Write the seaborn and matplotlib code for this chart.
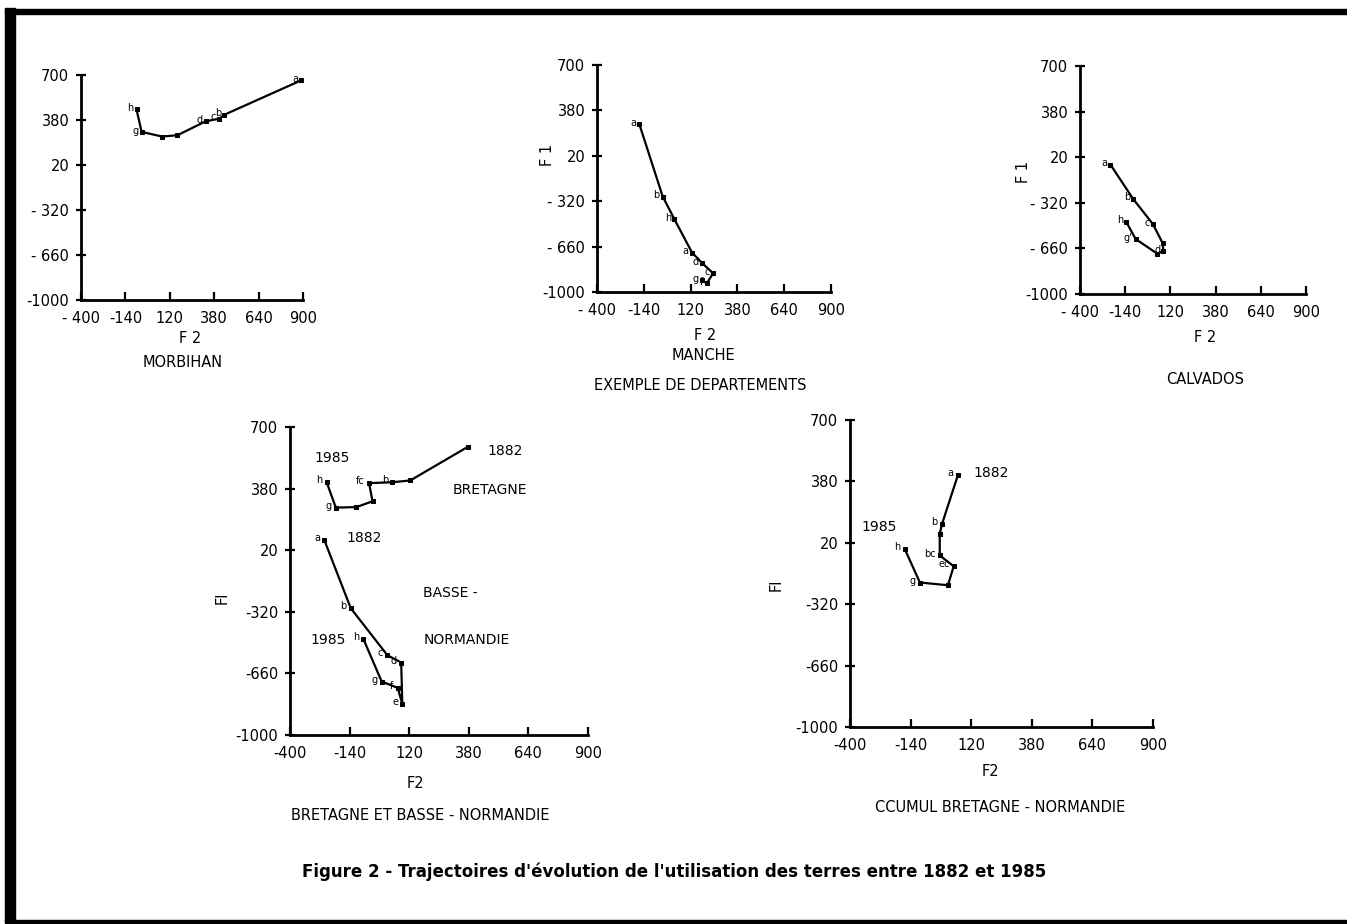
import numpy as np
import pandas as pd
import matplotlib
matplotlib.use("Agg")
import matplotlib.pyplot as plt
from matplotlib.patches import Rectangle
import seaborn as sns

sns.set_theme(style="ticks")
plt.rcParams['font.family'] = ['DejaVu Sans']

# ---------------- data (F2 = x, F1 = y) ----------------
X_TICKS = [-400, -140, 120, 380, 640, 900]
Y_TICKS = [-1000, -660, -320, 20, 360, 700]
X_TICK_LABELS_TOP = ['- 400', '-140', '120', '380', '640', '900']
Y_TICK_LABELS_TOP = ['-1000', '- 660', '- 320', '20', '380', '700']
X_TICK_LABELS_BOT = ['-400', '-140', '120', '380', '640', '900']
Y_TICK_LABELS_BOT = ['-1000', '-660', '-320', '20', '380', '700']

morbihan_x = [890, 440, 410, 330, 165, 75, -45, -75]
morbihan_y = [660, 400, 370, 350, 245, 235, 270, 440]
morbihan_lab = ['a', 'b', 'c', 'd', '', '', 'g', 'h']

manche_x = [-165, -35, 30, 128, 185, 245, 210, 183]
manche_y = [258, -285, -455, -705, -785, -860, -935, -910]
manche_lab = ['a', 'b', 'h', 'a', 'd', 'c', 'f', 'g']

calvados_x = [-225, -95, 20, 75, 80, 45, -80, -135]
calvados_y = [-35, -290, -480, -620, -680, -700, -590, -460]
calvados_lab = ['a', 'b', 'c', '', 'd', '', "g'", 'h']

bretagne_x = [375, 125, 45, -55, -40, -110, -200, -240]
bretagne_y = [590, 405, 395, 390, 290, 258, 255, 395]
bretagne_lab = ['', '', 'b', 'fc', '', '', 'g', 'h']

bnorm_x = [-250, -135, 25, 85, 90, 70, 0, -80]
bnorm_y = [75, -300, -560, -600, -830, -740, -705, -470]
bnorm_lab = ['a', 'b', 'c', 'd', 'e', 'f', 'g', 'h']

cumul_x = [63, -5, -15, -15, 45, 20, -100, -165]
cumul_y = [395, 125, 70, -50, -110, -215, -200, -15]
cumul_lab = ['a', 'b', '', 'bc', 'ec', '', 'g', 'h']

# panel annotations (text, x, y)
bret_notes = [('1985', -215, 530), ('1882', 540, 565), ('BRETAGNE', 470, 352),
              ('1882', -75, 90), ('BASSE -', 300, -216), ('NORMANDIE', 370, -476),
              ('1985', -235, -476)]
cumul_notes = [('1985', -275, 105), ('1882', 205, 405)]

W, H = 1347, 924
fig = plt.figure(figsize=(W / 100, H / 100), dpi=100)
fig.patch.set_facecolor('white')


def px_axes(x0, y0, x1, y1):
    return fig.add_axes([x0 / W, 1 - y1 / H, (x1 - x0) / W, (y1 - y0) / H])


def style_axes(ax, xl, yl, fs=10.5):
    ax.set_facecolor('white')
    ax.set_xlim(-400, 900)
    ax.set_ylim(-1000, 700)
    ax.set_xticks(X_TICKS)
    ax.set_yticks(Y_TICKS)
    ax.set_xticklabels(xl, fontsize=fs, color='black')
    ax.set_yticklabels(yl, fontsize=fs, color='black')
    for s in ['top', 'right']:
        ax.spines[s].set_visible(False)
    for s in ['left', 'bottom']:
        ax.spines[s].set_color('black')
        ax.spines[s].set_linewidth(2.0)
    ax.tick_params(axis='x', direction='in', length=6, width=1.6, pad=8, colors='black')
    ax.tick_params(axis='y', direction='inout', length=7, width=1.6, pad=5, colors='black')
    ax.grid(False)
    ax.set_xlabel('')
    ax.set_ylabel('')


def draw_traj(ax, xs, ys, labs):
    df = pd.DataFrame({'F2': xs, 'F1': ys})
    sns.lineplot(data=df, x='F2', y='F1', sort=False, estimator=None, ax=ax,
                 color='black', linewidth=1.6, marker='s', markersize=3,
                 markeredgecolor='black')
    for x, y, t in zip(xs, ys, labs):
        if t:
            ax.text(x - 18, y + 10, t, fontsize=7, ha='right', va='center',
                    color='black')


panels = [
    ((81, 75, 303, 300), morbihan_x, morbihan_y, morbihan_lab),
    ((597, 65, 831, 292), manche_x, manche_y, manche_lab),
    ((1080, 66, 1306, 294), calvados_x, calvados_y, calvados_lab),
]
for box, xs, ys, labs in panels:
    ax = px_axes(*box)
    draw_traj(ax, xs, ys, labs)
    style_axes(ax, X_TICK_LABELS_TOP, Y_TICK_LABELS_TOP)

ax4 = px_axes(290, 427, 588, 735)
draw_traj(ax4, bretagne_x, bretagne_y, bretagne_lab)
draw_traj(ax4, bnorm_x, bnorm_y, bnorm_lab)
style_axes(ax4, X_TICK_LABELS_BOT, Y_TICK_LABELS_BOT)
for t, x, y in bret_notes:
    ax4.text(x, y, t, fontsize=10, ha='center', va='center', color='black')

ax5 = px_axes(850, 420, 1153, 727)
draw_traj(ax5, cumul_x, cumul_y, cumul_lab)
style_axes(ax5, X_TICK_LABELS_BOT, Y_TICK_LABELS_BOT)
for t, x, y in cumul_notes:
    ax5.text(x, y, t, fontsize=10, ha='center', va='center', color='black')


def ftext(x, y, s, **kw):
    kw.setdefault('fontsize', 10.5)
    fig.text(x / W, 1 - y / H, s, ha='center', va='center', color='black', **kw)


# axis names & panel titles
ftext(190, 339, 'F 2')
ftext(183, 363, 'MORBIHAN')
ftext(548, 155, 'F 1', rotation=90)
ftext(705, 336, 'F 2')
ftext(703, 356, 'MANCHE')
ftext(700, 386, 'EXEMPLE DE DEPARTEMENTS')
ftext(1023, 172, 'F 1', rotation=90)
ftext(1205, 338, 'F 2')
ftext(1205, 380, 'CALVADOS')
ftext(222, 598, 'Fl', rotation=90)
ftext(415, 783, 'F2')
ftext(420, 815, 'BRETAGNE ET BASSE - NORMANDIE')
ftext(776, 585, 'Fl', rotation=90)
ftext(990, 772, 'F2')
ftext(1000, 808, 'CCUMUL BRETAGNE - NORMANDIE')

ftext(674, 872, "Figure 2 - Trajectoires d'évolution de l'utilisation des terres entre 1882 et 1985",
      fontsize=12, fontweight='bold')

# scanned page frame
fig.patches.append(Rectangle((5 / W, 1 - 922 / H), 10 / W, 914 / H,
                             transform=fig.transFigure, color='black', zorder=0))
fig.patches.append(Rectangle((5 / W, 1 - 14 / H), (W - 5) / W, 5 / H,
                             transform=fig.transFigure, color='black', zorder=0))
fig.patches.append(Rectangle((5 / W, 1 - 923 / H), (W - 5) / W, 3 / H,
                             transform=fig.transFigure, color='black', zorder=0))

fig.savefig('out.png', dpi=100, facecolor='white')
